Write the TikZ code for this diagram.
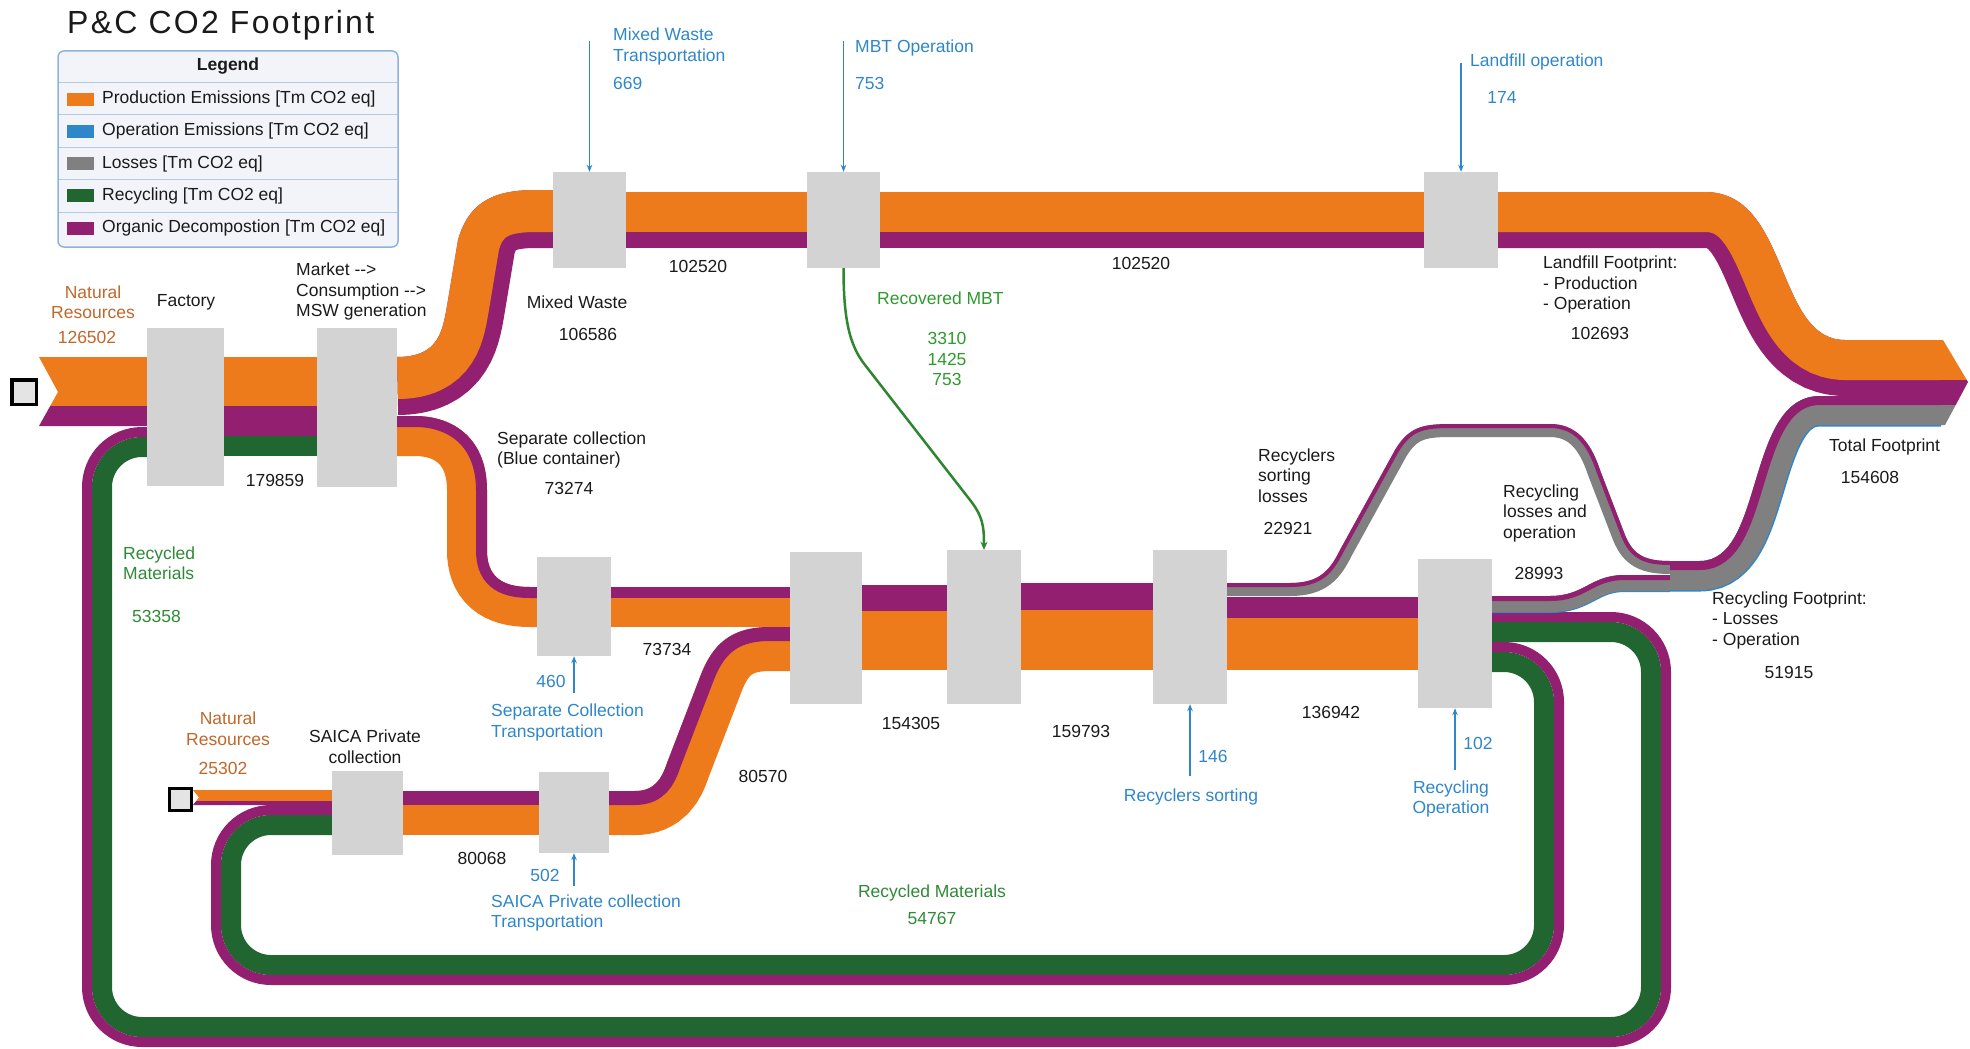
\documentclass[tikz,border=0pt]{standalone}
\usepackage{fontspec}
\setmainfont{Liberation Sans}
\usetikzlibrary{arrows.meta}

\definecolor{oran}{HTML}{ED7A1B}
\definecolor{purp}{HTML}{931F70}
\definecolor{grn}{HTML}{216531}
\definecolor{gry}{HTML}{808080}
\definecolor{boxgray}{HTML}{D3D3D3}
\definecolor{opblue}{HTML}{2F86C9}
\definecolor{natbrown}{HTML}{C0672A}
\definecolor{mbtgreen}{HTML}{2E9A2E}
\definecolor{mbtline}{HTML}{2E862E}
\definecolor{recgreen}{HTML}{2F8A36}
\definecolor{legfill}{HTML}{F3F4FA}
\definecolor{legedge}{HTML}{8DB3DD}
\definecolor{txt}{HTML}{1A1A1A}
\definecolor{srcfill}{HTML}{E4E4E4}

\tikzset{
  proc/.style={fill=boxgray, inner sep=0pt},
  srcbox/.style={draw=black, fill=srcfill, line width=3.5pt, inner sep=0pt},
  lbl/.style={font=\fontsize{17.5}{20.5}\selectfont, inner sep=0pt, text=txt},
  oplbl/.style={lbl, text=opblue},
  natlbl/.style={lbl, text=natbrown},
  oparrow/.style={draw=opblue, line width=1.5pt, -{Stealth[length=7pt,width=5.5pt]}},
  swatch/.style={minimum width=27pt, minimum height=13pt, inner sep=0pt},
}

\begin{document}
\begin{tikzpicture}[x=1pt,y=-1pt]
\useasboundingbox (0,0) rectangle (1970,1049);

% Title
\node[anchor=west, inner sep=0pt, text=txt,
      font=\fontsize{32}{36}\selectfont\addfontfeature{LetterSpace=7}] (title) at (67,25) {P\&C CO2 Footprint};

% Legend
\draw[legedge, fill=legfill, line width=1.5pt, rounded corners=6pt] (58,51) rectangle (398,247);
\node[lbl, font=\fontsize{17.5}{20.5}\selectfont\bfseries] (leghead) at (228,66) {Legend};
\foreach \k in {0,...,4}
  \draw[legedge!70, line width=1pt] (59,{82+32.5*\k}) -- (397,{82+32.5*\k});
\foreach \c/\t [count=\i] in {oran/Production Emissions [Tm CO2 eq],
                              opblue/Operation Emissions [Tm CO2 eq],
                              gry/Losses [Tm CO2 eq],
                              grn/Recycling [Tm CO2 eq],
                              purp/Organic Decompostion [Tm CO2 eq]} {
  \node[swatch, fill=\c] (sw\i) at (80.5,{99+32.25*(\i-1)}) {};
  \node[lbl, anchor=west] (leg\i) at (102,{99+32.25*(\i-1)}) {\t};
}

% Natural resources input
\fill[oran] (39,357) -- (147,357) -- (147,406) -- (50.2,406) -- (58,392) -- cycle;
\fill[purp] (50.2,406) -- (147,406) -- (147,426) -- (39,426) -- cycle;

% Factory -> Market
\fill[oran] (224,357) rectangle (317,406);
\fill[purp] (224,406) rectangle (317,436);
\fill[grn] (224,436) rectangle (317,456);

% Recycled materials back to factory (outer loop)
\draw[grn, line width=20pt, rounded corners=40pt] (1492,632) -- (1651,632) -- (1651,1027) -- (102,1027) -- (102,447) -- (147,447);
\draw[purp, line width=10pt, rounded corners=55pt] (1492,617) -- (1666,617) -- (1666,1042) -- (87,1042) -- (87,432) -- (147,432);

% Recycled materials back to SAICA (inner loop)
\draw[grn, line width=20pt, rounded corners=40pt] (1492,662) -- (1544,662) -- (1544,965) -- (231,965) -- (231,825) -- (332,825);
\draw[purp, line width=10pt, rounded corners=55pt] (1492,647) -- (1559,647) -- (1559,980) -- (216,980) -- (216,810) -- (332,810);

% Market -> Mixed waste
\def\bedge{(397,357) .. controls (440,357) and (443,330) .. (448,300) -- (458,240)
  .. controls (468,205) and (490,190) .. (535,190) -- (553,190)}
\begin{scope}
  \clip \bedge -- (553,480) -- (397,480) -- cycle;
  \draw[purp, line width=116pt] \bedge;
  \draw[oran, line width=84pt] \bedge;
\end{scope}

% Market -> Separate collection
\def\bedge{(397,416) -- (415,416) .. controls (455,416) and (487,440) .. (487,490) -- (487,550)
  .. controls (487,575) and (500,587) .. (530,587) -- (537,587)}
\begin{scope}
  \clip \bedge -- (537,720) -- (397,720) -- cycle;
  \draw[oran, line width=80pt] \bedge;
  \draw[purp, line width=22pt] \bedge;
\end{scope}

% Mixed waste line
\fill[oran] (626,192) rectangle (807,232);
\fill[purp] (626,232) rectangle (807,248);
\fill[oran] (880,192) rectangle (1424,232);
\fill[purp] (880,232) rectangle (1424,248);

% Landfill -> Total footprint
\def\bedge{(1498,192) -- (1705,192) .. controls (1790,192) and (1775,340) .. (1845,340) -- (1941,340)}
\begin{scope}
  \clip \bedge -- (1941,460) -- (1498,460) -- cycle;
  \draw[purp, line width=112pt] \bedge;
  \draw[oran, line width=80pt] \bedge;
\end{scope}

% Separate collection line
\fill[purp] (611,587) rectangle (790,598);
\fill[oran] (611,598) rectangle (790,627);

% SAICA
\fill[oran] (193,790) -- (332,790) -- (332,801) -- (196.2,801) -- (199,797.5) -- cycle;
\fill[purp] (196.2,801) -- (332,801) -- (332,805) -- (193,805) -- cycle;
\fill[purp] (403,791) rectangle (539,805);
\fill[oran] (403,805) rectangle (539,835);
\def\bedge{(609,791) -- (635,791) .. controls (655,791) and (662,778) .. (667,763) -- (700,677)
  .. controls (712,645) and (730,627) .. (770,627) -- (790,627)}
\begin{scope}
  \clip \bedge -- (790,900) -- (609,900) -- cycle;
  \draw[oran, line width=88pt] \bedge;
  \draw[purp, line width=28pt] \bedge;
\end{scope}

% Main recycling line
\fill[purp] (862,585) rectangle (947,611);
\fill[oran] (862,611) rectangle (947,670);
\fill[purp] (1021,583) rectangle (1153,610);
\fill[oran] (1021,610) rectangle (1153,670);
\fill[purp] (1227,597) rectangle (1418,618);
\fill[oran] (1227,618) rectangle (1418,670);

% Recyclers sorting losses
\def\bedge{(1227,583) -- (1290,583) .. controls (1320,583) and (1330,570) .. (1340,550) -- (1395,450)
  .. controls (1410,425) and (1425,424) .. (1455,424) -- (1550,424)
  .. controls (1575,424) and (1590,440) .. (1600,470) -- (1625,535)
  .. controls (1633,555) and (1645,561) .. (1670,561)}
\begin{scope}
  \clip \bedge -- (1670,700) -- (1227,700) -- cycle;
  \draw[gry, line width=26pt] \bedge;
  \draw[purp, line width=8pt] \bedge;
\end{scope}

% Recycling losses and operation
\def\bedge{(1492,596) -- (1550,596) .. controls (1585,596) and (1590,575) .. (1625,575) -- (1670,575)}
\begin{scope}
  \clip \bedge -- (1670,650) -- (1492,650) -- cycle;
  \draw[opblue, line width=34pt] \bedge;
  \draw[gry, line width=32pt] \bedge;
  \draw[purp, line width=10pt] \bedge;
\end{scope}

% Recycling footprint -> Total footprint
\def\bedge{(1670,561) -- (1700,561) .. controls (1765,561) and (1745,396) .. (1820,396) -- (1941,396)}
\begin{scope}
  \clip \bedge -- (1941,640) -- (1670,640) -- cycle;
  \draw[opblue, line width=61pt] \bedge;
  \draw[gry, line width=58pt] \bedge;
  \draw[purp, line width=18pt] \bedge;
\end{scope}

% Total footprint arrow head
\fill[oran] (1940,340) -- (1943,340) -- (1966.8,380) -- (1940,380) -- cycle;
\fill[purp] (1940,380) -- (1966.8,380) -- (1968,382) -- (1955.7,405) -- (1940,405) -- cycle;
\fill[gry] (1940,405) -- (1955.7,405) -- (1945,425) -- (1940,425) -- cycle;

% Sources
\node[srcbox, minimum size=24.5pt] (src1) at (24,392) {};
\node[srcbox, line width=3pt, minimum size=22pt] (src2) at (180,799) {};

% Process boxes
\node[proc, minimum width=77pt, minimum height=158pt] (fac) at (185.5,407) {};
\node[proc, minimum width=80pt, minimum height=159pt] (mkt) at (357,407.5) {};
\node[proc, minimum width=73pt, minimum height=96pt] (mwt) at (589.5,220) {};
\node[proc, minimum width=73pt, minimum height=96pt] (mbt) at (843.5,220) {};
\node[proc, minimum width=74pt, minimum height=96pt] (lfo) at (1461,220) {};
\node[proc, minimum width=74pt, minimum height=99pt] (sct) at (574,606.5) {};
\node[proc, minimum width=72pt, minimum height=152pt] (mrg) at (826,628) {};
\node[proc, minimum width=74pt, minimum height=154pt] (rmb) at (984,627) {};
\node[proc, minimum width=74pt, minimum height=154pt] (srt) at (1190,627) {};
\node[proc, minimum width=74pt, minimum height=149pt] (rcy) at (1455,633.5) {};
\node[proc, minimum width=71pt, minimum height=84pt] (sai) at (367.5,813) {};
\node[proc, minimum width=70pt, minimum height=81pt] (sat) at (574,812.5) {};

% Operation inputs
\coordinate (mwtop) at (589.5,41);
\coordinate (mbtop) at (843.5,41);
\coordinate (lfoop) at (1461,63);
\coordinate (sctop) at (574,693);
\coordinate (satop) at (574,886);
\coordinate (srtop) at (1190,776);
\coordinate (rcyop) at (1455,770);
\draw[oparrow] (mwtop) -- (mwt.north);
\draw[oparrow] (mbtop) -- (mbt.north);
\draw[oparrow] (lfoop) -- (lfo.north);
\draw[oparrow] (sctop) -- (sct.south);
\draw[oparrow] (satop) -- (sat.south);
\draw[oparrow] (srtop) -- (srt.south);
\draw[oparrow] (rcyop) -- (rcy.south);

% Recovered MBT
\draw[mbtline, line width=2.5pt, -{Stealth[length=8pt,width=7pt]}]
  (mbt.south) .. controls (843.5,320) and (849.6,345.3) .. (865,365)
  -- (970,500) .. controls (982.3,515.8) and (984,525) .. (rmb.north);

% Labels
\node[natlbl, align=center] (nr1) at (93,302) {Natural\\Resources};
\node[natlbl] (nr1v) at (87,337) {126502};
\node[lbl] (facl) at (186,302) {Factory};
\node[lbl, align=left, anchor=west] (mktl) at (296,291.5) {Market -{}->\\Consumption -{}->\\MSW generation};
\node[lbl] (fmv) at (275,480) {179859};
\node[oplbl, align=left, anchor=west] (mwtl) at (613,46.5) {Mixed Waste\\Transportation};
\node[oplbl, anchor=west] (mwtv) at (613,83) {669};
\node[oplbl, anchor=west] (mbtl) at (855,48) {MBT Operation};
\node[oplbl, anchor=west] (mbtv) at (855,83) {753};
\node[oplbl, anchor=west] (lfol) at (1470,62) {Landfill operation};
\node[oplbl] (lfov) at (1502,97) {174};
\node[lbl] (tv1) at (698,266) {102520};
\node[lbl] (tv2) at (1141,263) {102520};
\node[lbl] (mwl) at (577,302) {Mixed Waste};
\node[lbl] (mwv) at (588,334) {106586};
\node[lbl, text=mbtgreen, anchor=west] (rmbl) at (877,298) {Recovered MBT};
\node[lbl, text=mbtgreen, align=center] (rmbv) at (947,359) {3310\\1425\\753};
\node[lbl, align=left, anchor=west] (lffl) at (1543,284.5) {Landfill Footprint:\\- Production\\- Operation};
\node[lbl] (lffv) at (1600,333) {102693};
\node[lbl, align=left, anchor=west] (scl) at (497,450) {Separate collection\\(Blue container)};
\node[lbl] (scv) at (569,488) {73274};
\node[lbl] (sctv) at (667,649) {73734};
\node[oplbl] (sctopv) at (551,681) {460};
\node[oplbl, align=left, anchor=west] (sctl) at (491,722.5) {Separate Collection\\Transportation};
\node[lbl] (mrgv) at (911,723) {154305};
\node[lbl] (rmbv2) at (1081,731) {159793};
\node[lbl] (satv) at (763,776) {80570};
\node[oplbl] (srtopv) at (1213,756) {146};
\node[oplbl] (srtl) at (1191,797) {Recyclers sorting};
\node[lbl] (srtv) at (1331,712) {136942};
\node[oplbl] (rcyopv) at (1478,743) {102};
\node[oplbl, align=center] (rcyl) at (1451,799) {Recycling\\Operation};
\node[lbl, align=left, anchor=west] (hml) at (1258,475.5) {Recyclers\\sorting\\losses};
\node[lbl] (hmv) at (1288,528) {22921};
\node[lbl, align=left, anchor=west] (rll) at (1503,513) {Recycling\\losses and\\operation};
\node[lbl] (rlv) at (1539,573) {28993};
\node[lbl, anchor=west] (totl) at (1829,447) {Total Footprint};
\node[lbl] (totv) at (1870,477) {154608};
\node[lbl, align=left, anchor=west] (rfl) at (1712,620) {Recycling Footprint:\\- Losses\\- Operation};
\node[lbl] (rfv) at (1789,672) {51915};
\node[lbl, text=recgreen, align=left, anchor=west] (rm1l) at (123,563) {Recycled\\Materials};
\node[lbl, text=recgreen, anchor=west] (rm1v) at (132,616) {53358};
\node[natlbl, align=center] (nr2) at (228,728.5) {Natural\\Resources};
\node[natlbl] (nr2v) at (223,768) {25302};
\node[lbl, align=center] (sail) at (365,746.5) {SAICA Private\\collection};
\node[lbl] (saiv) at (482,858) {80068};
\node[oplbl] (satopv) at (545,875) {502};
\node[oplbl, align=left, anchor=west] (satl) at (491,913) {SAICA Private collection\\Transportation};
\node[lbl, text=recgreen] (rm2l) at (932,893) {Recycled Materials};
\node[lbl, text=recgreen] (rm2v) at (932,918) {54767};

\end{tikzpicture}
\end{document}
